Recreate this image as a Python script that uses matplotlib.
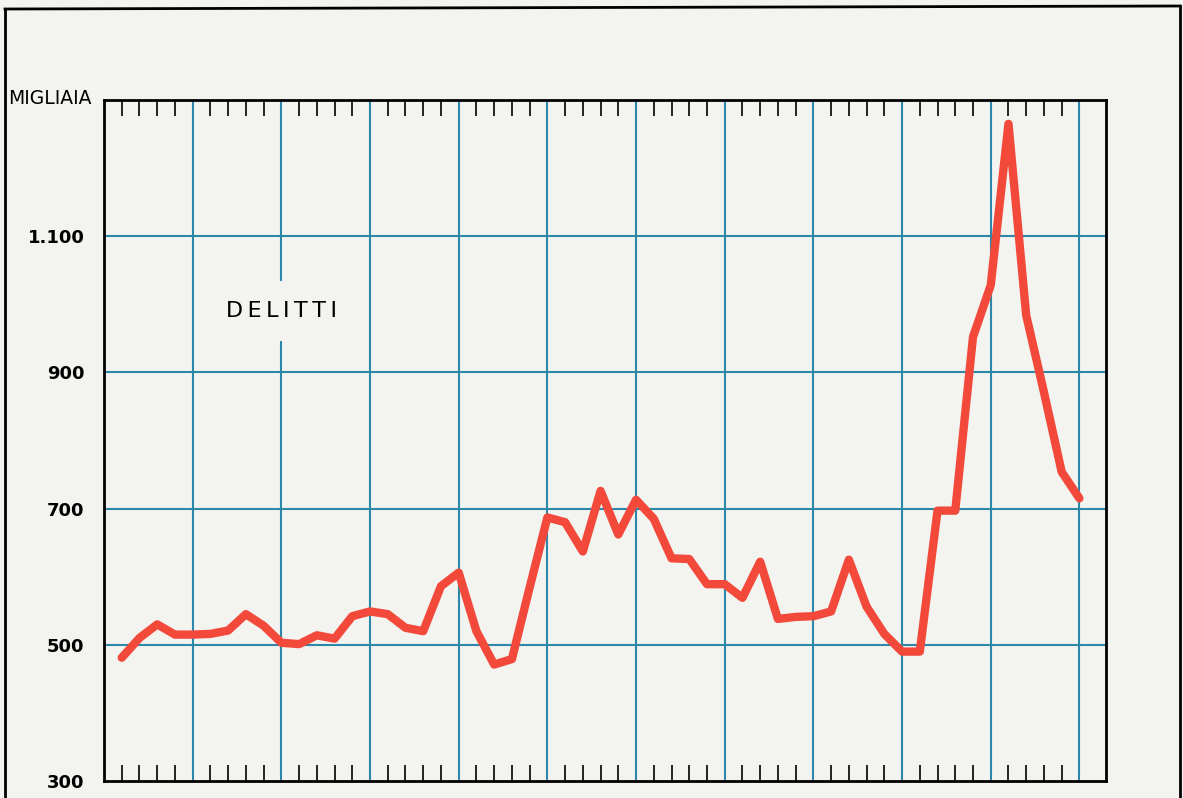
import numpy as np
import matplotlib
matplotlib.use('Agg')
import matplotlib.pyplot as plt
from matplotlib.lines import Line2D

# delitti denunciati, migliaia, 1896-1950
anni = np.arange(1896, 1951)
delitti = [481, 510, 530, 515, 515, 516, 521, 545, 528, 503,
           501, 514, 509, 542, 549, 545, 525, 520, 586, 606,
           520, 471, 479, 584, 687, 680, 637, 726, 662, 713,
           685, 627, 626, 589, 589, 569, 622, 538, 541, 542,
           549, 625, 556, 516, 490, 490, 697, 697, 952, 1028,
           1265, 984, 871, 754, 715]

y_ticks = [300, 500, 700, 900, 1100]
y_labels = ['300', '500', '700', '900', '1.100']
griglia_anni = np.arange(1900, 1951, 5)
tacche_anni = [a for a in range(1896, 1950) if a % 5 != 0]

carta = '#f3f3f0'
blu = '#2d87a8'
rosso = '#f2493b'

fig = plt.figure(figsize=(11.83, 7.98), dpi=100, facecolor=carta)
ax = fig.add_axes([104 / 1183, 1 - 781 / 798, 1002 / 1183, 681 / 798])
ax.set_facecolor(carta)

ax.set_xlim(1895, 1951.5)
ax.set_ylim(300, 1300)

# griglia
for a in griglia_anni:
    ax.axvline(a, color=blu, lw=1.5, zorder=1)
for v in y_ticks[1:]:
    ax.axhline(v, color=blu, lw=1.5, zorder=1)

# tacche annuali in alto e in basso
ax.set_xticks(tacche_anni)
ax.set_xticklabels([])
ax.tick_params(axis='x', direction='in', length=11.5, width=1.2,
               color='black', top=True, bottom=True)

ax.set_yticks(y_ticks)
ax.set_yticklabels(y_labels, fontsize=13, fontweight='bold')
ax.tick_params(axis='y', length=0, pad=14)

for s in ax.spines.values():
    s.set_linewidth(2)
    s.set_color('black')

ax.plot(anni, delitti, color=rosso, lw=6, solid_joinstyle='round',
        solid_capstyle='round', zorder=3)

ax.text(1905, 990, 'D\u2009E\u2009L\u2009I\u2009T\u2009T\u2009I', fontsize=16,
        ha='center', va='center', zorder=2,
        bbox=dict(boxstyle='square,pad=0.9', fc=carta, ec='none'))

fig.text(8 / 1183, 1 - 98 / 798, 'MIGLIAIA', fontsize=13.5,
         ha='left', va='center')

# cornice della pagina
W, H = 1183, 798
fig.add_artist(Line2D([5 / W, 5 / W], [0, 1 - 9 / H], color='black', lw=2))
fig.add_artist(Line2D([5 / W, 1180 / W], [1 - 9 / H, 1 - 6 / H], color='black', lw=2))
fig.add_artist(Line2D([1180 / W, 1180 / W], [1 - 6 / H, 0], color='black', lw=2))

fig.savefig('out.png', dpi=100, facecolor=carta)
